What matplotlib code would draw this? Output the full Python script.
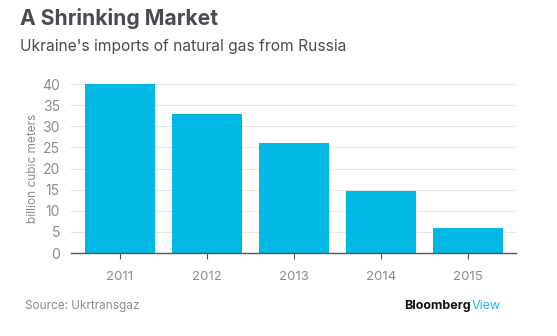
import matplotlib.pyplot as plt

# data
years = ['2011', '2012', '2013', '2014', '2015']
imports_bcm = [40.0, 32.9, 26.1, 14.6, 5.9]
y_ticks = [0, 5, 10, 15, 20, 25, 30, 35, 40]

plt.rcParams['font.family'] = ['Inter', 'DejaVu Sans']

fig = plt.figure(figsize=(5.57, 3.36), dpi=100)
ax = fig.add_axes([0.1275, 0.247, 0.7985, 0.503])

ax.bar(range(len(years)), imports_bcm, width=0.8, color='#00b8e4', zorder=2)

ax.set_xlim(-0.56, 4.55)
ax.set_ylim(0, 40)
ax.set_yticks(y_ticks)
ax.set_xticks(range(len(years)))
ax.set_xticklabels(years)
ax.yaxis.grid(True, color='#e6e6e6', linewidth=0.8, zorder=0)
ax.set_axisbelow(True)
for gl in ax.yaxis.get_gridlines():
    gl.set_clip_on(False)

for s in ['top', 'right', 'left']:
    ax.spines[s].set_visible(False)
ax.spines['bottom'].set_color('#55555f')
ax.spines['bottom'].set_linewidth(1)

ax.tick_params(axis='y', length=0, pad=8, labelsize=10, labelcolor='#8a8a95')
ax.tick_params(axis='x', length=4, color='#55555f', pad=9, labelsize=9.5, labelcolor='#8a8a95')
ax.set_ylabel('billion cubic meters', fontsize=8.5, color='#8a8a95', labelpad=2)

fig.text(0.036, 0.945, 'A Shrinking Market', fontsize=15.2, fontweight='bold',
         color='#4a4a55', va='center')
fig.text(0.036, 0.862, "Ukraine's imports of natural gas from Russia", fontsize=11.2,
         color='#4a4a55', va='center')
fig.text(0.045, 0.088, 'Source: Ukrtransgaz', fontsize=8.5, color='#8a8a95', va='center')
fig.text(0.846, 0.088, 'Bloomberg', fontsize=9, fontweight='bold', color='#111111',
         va='center', ha='right')
fig.text(0.846, 0.088, 'View', fontsize=9, color='#1fb6f0', va='center', ha='left')

fig.savefig('out.png', dpi=100)
